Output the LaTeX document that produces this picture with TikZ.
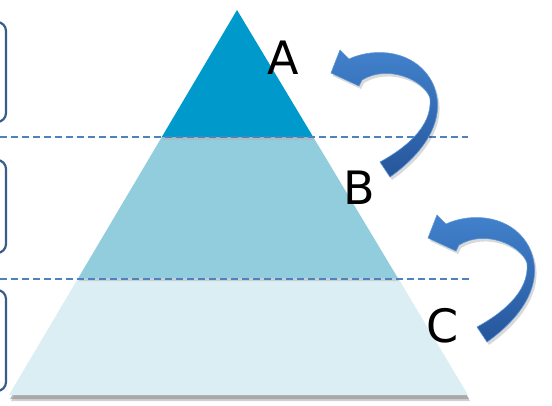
\documentclass[tikz,border=0pt]{standalone}
\usepackage{fontspec}
\setmainfont{DejaVu Sans}
\usetikzlibrary{calc}
\definecolor{secA}{RGB}{0,153,204}
\definecolor{secB}{RGB}{146,205,221}
\definecolor{secC}{RGB}{219,238,244}
\definecolor{dashblue}{RGB}{79,129,189}
\definecolor{boxblue}{RGB}{56,93,138}
\definecolor{arrtop}{RGB}{66,130,205}
\definecolor{arrbot}{RGB}{38,86,155}
\definecolor{arredge}{RGB}{92,148,214}
\begin{document}
\begin{tikzpicture}[x=1pt,y=-1pt,
  lbl/.style={font=\fontsize{46}{46}\selectfont, text=black, inner sep=0pt},
  sidebox/.style={draw=boxblue, line width=2.2pt, rounded corners=9pt},
  levelline/.style={draw=dashblue, line width=1.2pt, dash pattern=on 7pt off 4pt},
  arrowbody/.style={top color=arrtop, bottom color=arrbot, draw=arredge, line width=0.6pt},
  curvedarrow/.pic={
    \fill[black, opacity=0.15] (333,76) -- (342,53) -- (351,62)
      .. controls (377,50) and (417,53) .. (434,85)
      .. controls (450,118) and (430,153) .. (392,180)
      -- (382,165)
      .. controls (404,153) and (435,131) .. (432,101)
      .. controls (426,83) and (390,67) .. (364,83)
      -- (361,89) -- cycle;
    \path[arrowbody] (331,73) -- (340,50) -- (349,59)
      .. controls (375,47) and (415,50) .. (432,82)
      .. controls (448,115) and (428,150) .. (390,177)
      -- (380,162)
      .. controls (402,150) and (433,128) .. (430,98)
      .. controls (424,80) and (388,64) .. (362,80)
      -- (359,86) -- cycle;
  }]
\useasboundingbox (0,0) rectangle (552,405);
\clip (0,0) rectangle (552,405);
\fill[white] (0,0) rectangle (552,405);

% pyramid corners
\coordinate (apex) at (237,10);
\coordinate (bl) at (9,395);
\coordinate (br) at (468,395);
\coordinate (abl) at ($(apex)!0.3299!(bl)$);
\coordinate (abr) at ($(apex)!0.3299!(br)$);
\coordinate (bcl) at ($(apex)!0.6961!(bl)$);
\coordinate (bcr) at ($(apex)!0.6961!(br)$);

% shadow of the pyramid
\fill[black!35, opacity=0.5] ($(bl)+(2,6)$) -- ($(br)+(2,6)$) -- ($(bcr)+(2,4)$) -- ($(bcl)+(2,4)$) -- cycle;
\fill[black!45, opacity=0.6] ($(bl)+(1,4)$) -- ($(br)+(1,4)$) -- ($(bcr)+(1,2)$) -- ($(bcl)+(1,2)$) -- cycle;

% sections
\fill[secC] (bcl) -- (bcr) -- (br) -- (bl) -- cycle;
\fill[black!30, opacity=0.5] (bcl) -- (bcr) -- ($(bcr)+(1,3)$) -- ($(bcl)+(1,3)$) -- cycle;
\fill[secB] (abl) -- (abr) -- (bcr) -- (bcl) -- cycle;
\fill[black!30, opacity=0.5] (abl) -- (abr) -- ($(abr)+(1,3)$) -- ($(abl)+(1,3)$) -- cycle;
\fill[secA] (apex) -- (abr) -- (abl) -- cycle;

% level lines
\coordinate (d1s) at (0,137);
\coordinate (d1e) at (468,137);
\coordinate (d2s) at (0,279);
\coordinate (d2e) at (470,279);
\draw[levelline] (d1s) -- (d1e);
\draw[levelline] (d2s) -- (d2e);

% side boxes (cut at the left edge)
\draw[sidebox] (-30,22) rectangle (6,122);
\draw[sidebox] (-30,160) rectangle (6,253);
\draw[sidebox] (-30,290) rectangle (6,391);

% curved arrows
\pic at (0,0) {curvedarrow};
\pic at (97,165) {curvedarrow};

% labels
\node[lbl] (la) at (283,58) {A};
\node[lbl] (lb) at (359,188) {B};
\node[lbl] (lc) at (443,326) {C};
\end{tikzpicture}
\end{document}
